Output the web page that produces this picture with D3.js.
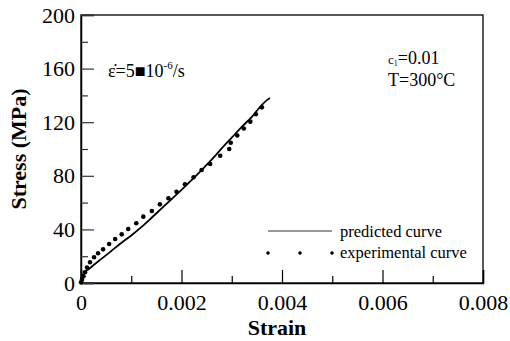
<!DOCTYPE html>
<html><head><meta charset="utf-8">
<script src="https://cdn.jsdelivr.net/npm/d3@7"></script>
<style>body{margin:0;background:#fff}svg{display:block}svg text{font-family:"Liberation Serif","Times New Roman","DejaVu Serif",serif !important}</style>
</head><body>
<svg id="c" width="510" height="341"></svg>
<script>
const xTicks = [0, 0.002, 0.004, 0.006, 0.008];
const xTickLabels = ["0", "0.002", "0.004", "0.006", "0.008"];
const yTicks = [0, 40, 80, 120, 160, 200];
const yTickLabels = ["0", "40", "80", "120", "160", "200"];
const xMinor = [0.001, 0.003, 0.005, 0.007];
const yMinor = [20, 60, 100, 140, 180];

const predStrain = [0, 0.00001, 0.00003, 0.00006, 0.0001, 0.00015, 0.0002, 0.0004, 0.0006, 0.0008, 0.001, 0.0012, 0.0014, 0.0016, 0.0018, 0.002, 0.0022, 0.0024, 0.0026, 0.0028, 0.003, 0.0032, 0.0034, 0.0036, 0.0037, 0.00376];
const predStress = [0, 2, 5, 7.5, 9, 10.2, 11.8, 17.8, 23.8, 29.8, 35.5, 41.7, 48.5, 55.5, 62.5, 69.5, 76.8, 84.3, 92, 100.5, 108.5, 116.5, 124, 133, 136.5, 138];

const expStrain = [0, 0.00002, 0.00005, 0.00008, 0.00012, 0.00018, 0.00026, 0.00034, 0.00044, 0.00056, 0.00068, 0.00081, 0.00094, 0.0011, 0.00124, 0.00141, 0.00157, 0.00174, 0.0019, 0.00207, 0.00224, 0.0024, 0.00257, 0.00277, 0.00295, 0.00298, 0.00311, 0.00324, 0.00337, 0.00348, 0.0036];
const expStress = [0.5, 2.5, 5, 8, 11.5, 15.5, 19.2, 22.2, 25.1, 29.1, 32.8, 36.3, 40.3, 44.6, 49.5, 53.7, 58.7, 63.2, 68.1, 73.7, 78.9, 84.3, 88.8, 95, 100, 104.7, 110.1, 115.3, 120.4, 125.9, 131.1];

const FONT = "'Liberation Serif', 'Times New Roman', 'DejaVu Serif', serif";
const svg = d3.select("#c");
const L = 81, R = 483, T = 15, B = 283;
const x = d3.scaleLinear().domain([0, 0.008]).range([L, R]);
const y = d3.scaleLinear().domain([0, 200]).range([B, T]);

svg.append("rect").attr("x", L).attr("y", T).attr("width", R - L).attr("height", B - T)
  .attr("fill", "none").attr("stroke", "#000").attr("stroke-width", 1.3);

const xa = svg.append("g").attr("transform", `translate(0,${B})`)
  .call(d3.axisBottom(x).tickValues(xTicks).tickSize(-13).tickFormat((d, i) => xTickLabels[i]).tickPadding(11));
xa.attr("font-family", FONT).attr("font-size", 22);
xa.select(".domain").attr("stroke-width", 1.5);
xa.selectAll(".tick line").attr("stroke-width", 1.2);
xa.selectAll(".tick text").style("font-family", FONT).style("font-size", "22px");
svg.append("g").attr("transform", `translate(0,${B})`)
  .call(d3.axisBottom(x).tickValues(xMinor).tickSize(-7).tickFormat(""))
  .call(g => g.select(".domain").remove()).selectAll("line").attr("stroke-width", 1.2);

const ya = svg.append("g").attr("transform", `translate(${L},0)`)
  .call(d3.axisLeft(y).tickValues(yTicks).tickSize(-13).tickFormat((d, i) => yTickLabels[i]).tickPadding(6));
ya.attr("font-family", FONT).attr("font-size", 22);
ya.select(".domain").attr("stroke-width", 1.5);
ya.selectAll(".tick line").attr("stroke-width", 1.2).attr("stroke", "#333");
ya.selectAll(".tick text").style("font-family", FONT).style("font-size", "22px");
svg.append("g").attr("transform", `translate(${L},0)`)
  .call(d3.axisLeft(y).tickValues(yMinor).tickSize(-7).tickFormat(""))
  .call(g => g.select(".domain").remove()).selectAll("line").attr("stroke-width", 1.2).attr("stroke", "#333");

const pred = predStrain.map((v, i) => [v, predStress[i]]);
svg.append("path").datum(pred)
  .attr("d", d3.line().x(d => x(d[0])).y(d => y(d[1])).curve(d3.curveMonotoneX))
  .attr("fill", "none").attr("stroke", "#000").attr("stroke-width", 1.8);

const exp = expStrain.map((v, i) => [v, expStress[i]]);
svg.append("g").selectAll("circle").data(exp).join("circle")
  .attr("cx", d => x(d[0])).attr("cy", d => y(d[1])).attr("r", 2.3).attr("fill", "#000");

svg.append("text").attr("x", 277).attr("y", 335).attr("text-anchor", "middle")
  .style("font-family", FONT).style("font-size", "22px").attr("font-weight", "bold").text("Strain");
svg.append("text").attr("transform", "translate(26,149) rotate(-90)").attr("text-anchor", "middle")
  .style("font-family", FONT).style("font-size", "22px").attr("font-weight", "bold").text("Stress (MPa)");

const a1 = svg.append("text").attr("x", 108).attr("y", 77).style("font-family", FONT).style("font-size", "18px");
a1.append("tspan").text("ε̇=5■10");
a1.append("tspan").style("font-size", "11px").attr("dy", -8).text("-6");
a1.append("tspan").attr("dy", 8).text("/s");

const a2 = svg.append("text").attr("x", 388).attr("y", 64).style("font-family", FONT).style("font-size", "18px");
a2.append("tspan").style("font-size", "13px").text("c");
a2.append("tspan").style("font-size", "8px").attr("dy", 2).text("1");
a2.append("tspan").attr("dy", -2).text("=0.01");
svg.append("text").attr("x", 388).attr("y", 86).style("font-family", FONT).style("font-size", "18px").text("T=300°C");

svg.append("line").attr("x1", 268).attr("x2", 332).attr("y1", 231).attr("y2", 231)
  .attr("stroke", "#333").attr("stroke-width", 1);
svg.append("text").attr("x", 340).attr("y", 237).style("font-family", FONT).style("font-size", "16.5px").text("predicted curve");
svg.append("g").selectAll("circle").data([268, 300, 332]).join("circle")
  .attr("cx", d => d).attr("cy", 253).attr("r", 1.8).attr("fill", "#000");
svg.append("text").attr("x", 340).attr("y", 258).style("font-family", FONT).style("font-size", "16.5px").text("experimental curve");
</script>
</body></html>
